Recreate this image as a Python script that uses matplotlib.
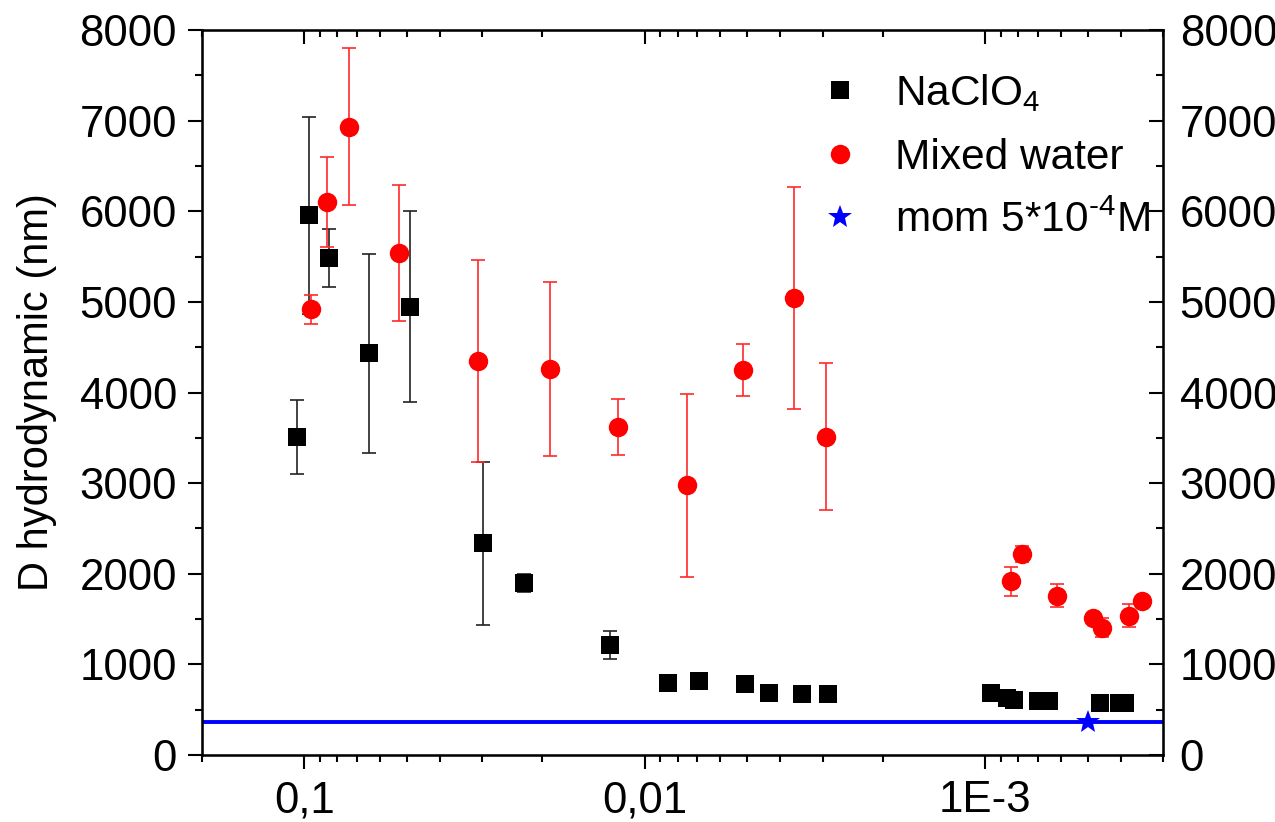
import matplotlib
matplotlib.use('Agg')
import matplotlib.pyplot as plt
from matplotlib.ticker import FixedLocator, FixedFormatter, LogLocator, MultipleLocator, NullFormatter

# fonts (Arial look-alike)
plt.rcParams['font.family'] = ['Liberation Sans', 'DejaVu Sans']
plt.rcParams['mathtext.fontset'] = 'custom'
plt.rcParams['mathtext.rm'] = 'Liberation Sans'
plt.rcParams['mathtext.it'] = 'Liberation Sans:italic'

# NaClO4 series: concentration (M), D hydrodynamic (nm), error
nacl_c = [0.1054, 0.0971, 0.0844, 0.0648, 0.049, 0.0298, 0.0226, 0.01265,
          0.00857, 0.00692, 0.00506, 0.00431, 0.00344, 0.0029,
          9.6e-4, 8.6e-4, 8.2e-4, 7.0e-4, 6.5e-4, 4.6e-4, 4.05e-4, 3.87e-4]
nacl_d = [3506, 5955, 5488, 4432, 4947, 2336, 1894, 1214,
          798, 820, 780, 681, 673, 673,
          681, 632, 607, 599, 599, 577, 570, 570]
nacl_err = [410, 1090, 320, 1095, 1055, 900, 100, 150,
            0, 0, 0, 0, 0, 0,
            0, 0, 0, 0, 0, 0, 0, 0]

# Mixed water series
mixed_c = [0.0955, 0.0860, 0.074, 0.0529, 0.031, 0.019, 0.01196, 0.0075,
           0.00513, 0.00365, 0.00294,
           8.38e-4, 7.78e-4, 6.16e-4, 4.81e-4, 4.54e-4, 3.77e-4, 3.46e-4]
mixed_d = [4921, 6102, 6933, 5543, 4351, 4259, 3623, 2976,
           4248, 5046, 3513,
           1920, 2218, 1758, 1515, 1405, 1537, 1703]
mixed_err = [160, 500, 868, 750, 1115, 960, 310, 1008,
             285, 1224, 813,
             160, 90, 130, 0, 105, 130, 0]

# mom 5*10^-4 M reference
mom_c = [5e-4]
mom_d = [360]
mom_level = 360

xticks = [0.1, 0.01, 1e-3]
xticklabels = ['0,1', '0,01', '1E-3']
yticks = [0, 1000, 2000, 3000, 4000, 5000, 6000, 7000, 8000]

fs = 31.5

fig = plt.figure(figsize=(12.75, 8.22), dpi=100)
ax = fig.add_axes([0.1584, 0.0815, 0.7538, 0.882])

# horizontal reference line
ax.axhline(mom_level, color='#0000ff', lw=2.8, zorder=1)

# error bars under the markers
ax.errorbar(nacl_c, nacl_d, yerr=nacl_err, fmt='none', ecolor='#222222',
            elinewidth=1.2, capsize=5, capthick=1.2, zorder=2)
ax.plot(nacl_c, nacl_d, 's', color='black', ms=12.5, mew=0, zorder=3,
        label=r'NaClO$_\mathregular{4}$')
ax.errorbar(mixed_c, mixed_d, yerr=mixed_err, fmt='none', ecolor='#ff2a2a',
            elinewidth=1.2, capsize=5, capthick=1.2, zorder=4)
ax.plot(mixed_c, mixed_d, 'o', color='#ff0000', ms=14, mew=0, zorder=5,
        label='Mixed water')
ax.plot(mom_c, mom_d, '*', color='#0000ff', ms=18, mew=0, zorder=6,
        label='mom 5*10$^\\mathregular{\u20104}$M')

# axes
ax.set_xscale('log')
ax.set_xlim(0.2, 3e-4)
ax.set_ylim(0, 8000)
ax.xaxis.set_major_locator(FixedLocator(xticks))
ax.xaxis.set_major_formatter(FixedFormatter(xticklabels))
ax.xaxis.set_minor_locator(LogLocator(base=10, subs=range(2, 10), numticks=20))
ax.xaxis.set_minor_formatter(NullFormatter())
ax.yaxis.set_major_locator(FixedLocator(yticks))
ax.yaxis.set_minor_locator(MultipleLocator(500))
ax.tick_params(which='both', direction='out', width=1.5, labelsize=fs,
               top=False, right=False)
ax.tick_params(which='major', length=10)
ax.tick_params(which='minor', length=5)
ax.tick_params(axis='x', pad=8)
ax.tick_params(axis='y', pad=8)
for s in ax.spines.values():
    s.set_linewidth(1.8)

ax.set_ylabel('D hydrodynamic (nm)', fontsize=30, labelpad=16)

# right axis, same scale
ax2 = ax.twinx()
ax2.set_ylim(0, 8000)
ax2.yaxis.set_major_locator(FixedLocator(yticks))
ax2.yaxis.set_minor_locator(MultipleLocator(500))
ax2.tick_params(which='both', direction='in', width=1.5, labelsize=fs, pad=12)
ax2.tick_params(which='major', length=10)
ax2.tick_params(which='minor', length=5)

# top axis, ticks only
ax3 = ax.twiny()
ax3.set_xscale('log')
ax3.set_xlim(0.2, 3e-4)
ax3.xaxis.set_major_locator(FixedLocator(xticks))
ax3.xaxis.set_minor_locator(LogLocator(base=10, subs=range(2, 10), numticks=20))
ax3.xaxis.set_major_formatter(NullFormatter())
ax3.xaxis.set_minor_formatter(NullFormatter())
ax3.tick_params(which='both', direction='in', width=1.5)
ax3.tick_params(which='major', length=10)
ax3.tick_params(which='minor', length=5)

# legend without frame
ax.legend(loc='upper left', bbox_to_anchor=(0.642, 0.912),
          bbox_transform=fig.transFigure, frameon=False, fontsize=30.5,
          handlelength=1.0, handletextpad=0.8, labelspacing=0.55,
          borderpad=0, borderaxespad=0)

fig.savefig('out.png', dpi=100)
